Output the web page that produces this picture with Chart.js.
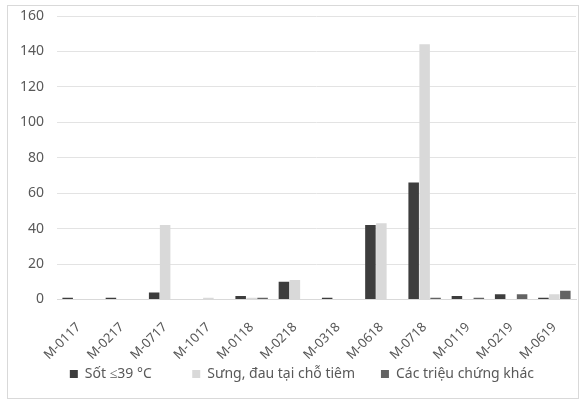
<!DOCTYPE html>
<html lang="vi">
<head>
  <meta charset="UTF-8">
  <title>Phản ứng sau tiêm theo lô vắc xin</title>
  <script src="https://cdn.jsdelivr.net/npm/chart.js"></script>
  <style>
    html, body { margin: 0; padding: 0; background: #fff; }
    #wrap { position: relative; width: 579px; height: 401px; }
    #frame { position: absolute; left: 7px; top: 5px; width: 572px; height: 394px;
             box-sizing: border-box; border: 1px solid #d9d9d9; pointer-events: none; }
    canvas { position: absolute; left: 0; top: 0; }
  </style>
</head>
<body>
<div id="wrap">
  <canvas id="chart" width="579" height="401"></canvas>
  <div id="frame"></div>
</div>
<script>
  // lô vắc xin
  const lots = ['M-0117', 'M-0217', 'M-0717', 'M-1017', 'M-0118', 'M-0218',
                'M-0318', 'M-0618', 'M-0718', 'M-0119', 'M-0219', 'M-0619'];
  // số ca theo từng loại phản ứng
  const fever    = [1, 1, 4, 0, 2, 10, 1, 42, 66, 2, 3, 1];
  const swelling = [0, 0, 42, 1, 1, 11, 0, 43, 144, 0, 0, 3];
  const other    = [0, 0, 0, 0, 1, 0, 0, 0, 1, 1, 3, 5];
  const seriesNames = ['Sốt ≤39 °C', 'Sưng, đau tại chỗ tiêm', 'Các triệu chứng khác'];
  const yTicks = [0, 20, 40, 60, 80, 100, 120, 140, 160];

  const font = 'Noto Sans';
  const textColor = '#595959';
  // khoảng trống sau mỗi mục chú giải (legend của Excel giãn rộng hơn)
  const legendGap = [10, 6, 8];

  new Chart(document.getElementById('chart'), {
    type: 'bar',
    data: {
      labels: lots,
      datasets: [
        { label: seriesNames[0], data: fever,    backgroundColor: '#3d3d3d' },
        { label: seriesNames[1], data: swelling, backgroundColor: '#d9d9d9' },
        { label: seriesNames[2], data: other,    backgroundColor: '#636363' }
      ]
    },
    options: {
      responsive: false,
      animation: false,
      datasets: { bar: { categoryPercentage: 0.76, barPercentage: 0.96 } },
      layout: { padding: { top: 16, right: 3, left: 0, bottom: 10 } },
      plugins: {
        tooltip: { enabled: false },
        legend: {
          position: 'bottom',
          fullSize: false,
          labels: {
            boxWidth: 8, boxHeight: 8, padding: 4,
            color: textColor,
            font: { family: font, size: 14 },
            generateLabels: chart => {
              const items = Chart.defaults.plugins.legend.labels.generateLabels(chart);
              items.forEach((it, i) => { it.text = it.text + '\u00a0'.repeat(legendGap[i]); it.lineWidth = 0; });
              return items;
            }
          }
        }
      },
      scales: {
        x: {
          grid: { display: false },
          border: { color: '#d9d9d9' },
          ticks: {
            color: textColor, minRotation: 45, maxRotation: 45, padding: 12,
            autoSkip: false,
            font: { family: font, size: 13 }
          },
          afterFit: s => { s.height = 63.5; s.paddingLeft = 0; s.paddingRight = 0; }
        },
        y: {
          min: 0, max: 160,
          afterBuildTicks: s => { s.ticks = yTicks.map(v => ({ value: v })); },
          grid: { color: '#e3e3e3', drawTicks: false },
          border: { display: false },
          ticks: {
            color: textColor, padding: 13,
            font: { family: font, size: 14 }
          },
          afterFit: s => { s.width = 57; s.paddingTop = 0; s.paddingBottom = 0; }
        }
      }
    }
  });
</script>
</body>
</html>
